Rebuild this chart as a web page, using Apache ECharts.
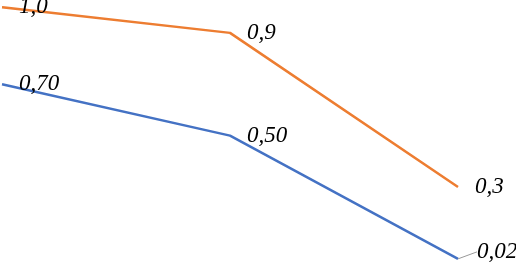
<!DOCTYPE html>
<html><head><meta charset="utf-8">
<script src="https://cdn.jsdelivr.net/npm/echarts@6/dist/echarts.min.js"></script>
<style>html,body{margin:0;padding:0;background:#fff}#c{width:516px;height:264px}</style>
</head><body><div id="c"></div>
<script>
const categories = ['A', 'B', 'C'];
const seriesBlue = [0.70, 0.50, 0.02];
const seriesOrange = [1.0, 0.9, 0.3];
const labelsBlue = ['0,70', '0,50', '0,02'];
const labelsOrange = ['1,0', '0,9', '0,3'];

const chart = echarts.init(document.getElementById('c'), null, {renderer: 'canvas'});
const labelFont = {fontFamily: '"Liberation Serif", "Times New Roman", serif', fontStyle: 'italic', fontSize: 23, color: '#000'};
function mk(name, vals, labs, color, moveLast) {
  return {
    name: name, type: 'line', symbol: 'circle', symbolSize: 0.01, showSymbol: true, smooth: false,
    data: vals.map((v, i) => (moveLast && i === vals.length - 1)
      ? {value: v, labelLine: {show: true, lineStyle: {color: '#999', width: 1}}}
      : {value: v, labelLine: {show: false}}),
    lineStyle: {color: color, width: 2.5},
    itemStyle: {color: color},
    label: Object.assign({show: true, position: 'right', distance: 17, offset: [0, 3],
      formatter: p => labs[p.dataIndex]}, labelFont),
    labelLine: {show: false},
    labelLayout: function (p) {
      if (moveLast && p.dataIndex === 2) return {dy: -7, dx: 2};
      return {};
    },
    z: 2
  };
}
chart.setOption({
  animation: false,
  grid: {left: 2, right: 58, top: 7.2, height: 258},
  xAxis: {type: 'category', data: categories, boundaryGap: false, show: false},
  yAxis: {type: 'value', min: 0, max: 1, show: false},
  series: [mk('blue', seriesBlue, labelsBlue, '#4472C4', true), mk('orange', seriesOrange, labelsOrange, '#ED7D31', false)]
});
</script></body></html>
